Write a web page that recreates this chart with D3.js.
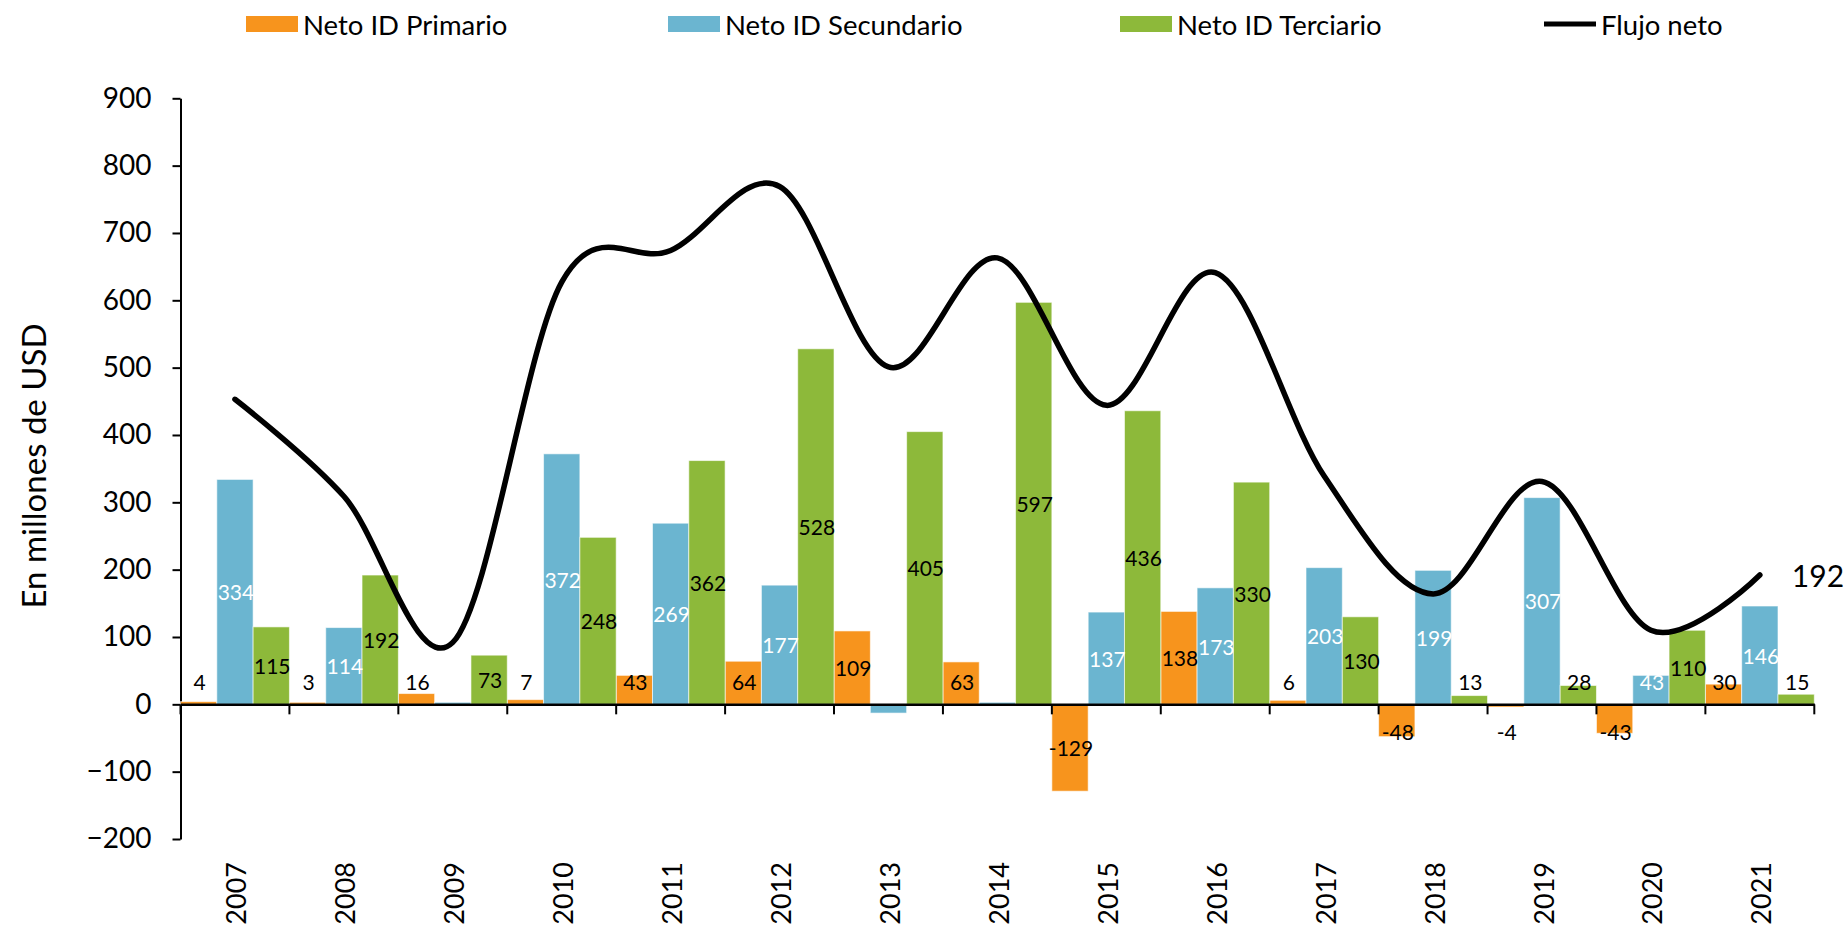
<!DOCTYPE html>
<html>
<head>
<meta charset="utf-8">
<script src="https://cdn.jsdelivr.net/npm/d3@7"></script>
<style>
  body { margin: 0; background: #fff; }
  svg { font-family: Lato, "Open Sans", sans-serif; }
</style>
</head>
<body>
<div id="chart"></div>
<script>
// datos (millones de USD)
const years = ['2007', '2008', '2009', '2010', '2011', '2012', '2013', '2014',
               '2015', '2016', '2017', '2018', '2019', '2020', '2021'];
const primario   = [4, 3, 16, 7, 43, 64, 109, 63, -129, 138, 6, -48, -4, -43, 30];
const secundario = [334, 114, 3, 372, 269, 177, -13, 3, 137, 173, 203, 199, 307, 43, 146];
const terciario  = [115, 192, 73, 248, 362, 528, 405, 597, 436, 330, 130, 13, 28, 110, 15];
const flujo      = [453, 309, 92, 627, 674, 769, 501, 663, 444, 641, 339, 164, 331, 110, 192];
const yTicks = [-200, -100, 0, 100, 200, 300, 400, 500, 600, 700, 800, 900];

const series = [
  { key: 'Neto ID Primario',   values: primario,   color: '#F7941D', label: '#000', showLabel: v => v !== 0 },
  { key: 'Neto ID Secundario', values: secundario, color: '#6BB5D0', label: '#fff', showLabel: v => Math.abs(v) > 20 },
  { key: 'Neto ID Terciario',  values: terciario,  color: '#8DB93A', label: '#000', showLabel: v => true }
];

const W = 1844, H = 925;
const mLeft = 180.5, mRight = 1814.3, mTop = 98.3, mBottom = 839;

const svg = d3.select('#chart').append('svg')
  .attr('width', W).attr('height', H);

const x = d3.scaleBand().domain(years).range([mLeft, mRight]).paddingInner(0).paddingOuter(0);
const xs = d3.scaleBand().domain(series.map(s => s.key)).range([0, x.bandwidth()]).padding(0);
const y = d3.scaleLinear().domain([-200, 900]).range([mBottom, mTop]);
const zero = y(0);

// eje Y
const yAxis = svg.append('g')
  .attr('transform', `translate(${mLeft},0)`)
  .call(d3.axisLeft(y).tickValues(yTicks).tickSize(8).tickSizeOuter(0).tickPadding(21));
yAxis.select('.domain').attr('stroke', '#000').attr('stroke-width', 2);
yAxis.selectAll('.tick line').attr('stroke', '#000').attr('stroke-width', 2);
yAxis.selectAll('.tick text').attr('font-size', 28).attr('fill', '#000')
  .attr('font-family', 'Lato, sans-serif');

// titulo eje Y
svg.append('text')
  .attr('transform', `translate(33,466) rotate(-90)`)
  .attr('text-anchor', 'middle').attr('dominant-baseline', 'central')
  .attr('font-size', 33).text('En millones de USD');

// barras
series.forEach(s => {
  const g = svg.append('g');
  g.selectAll('rect').data(s.values).join('rect')
    .attr('x', (d, i) => x(years[i]) + xs(s.key))
    .attr('width', xs.bandwidth())
    .attr('y', d => y(Math.max(0, d)))
    .attr('height', d => Math.abs(y(d) - zero))
    .attr('fill', s.color)
    .attr('stroke', 'rgba(255,255,255,0.6)').attr('stroke-width', 1);
});

// eje X en cero
const xAxis = svg.append('g')
  .attr('transform', `translate(0,${zero})`)
  .call(d3.axisBottom(x).tickSize(0).tickFormat(''));
xAxis.select('.domain').attr('stroke', '#000').attr('stroke-width', 2.5);
const bounds = years.map(yr => x(yr)).concat([x.range()[1]]);
svg.append('g').selectAll('line').data(bounds).join('line')
  .attr('x1', d => d).attr('x2', d => d)
  .attr('y1', zero).attr('y2', zero + 10)
  .attr('stroke', '#000').attr('stroke-width', 2);

// etiquetas de años abajo
svg.append('g').selectAll('text').data(years).join('text')
  .attr('transform', d => `translate(${x(d) + x.bandwidth() / 2 + 1},862) rotate(-90)`)
  .attr('text-anchor', 'end').attr('dominant-baseline', 'central')
  .attr('font-size', 27).text(d => d);

// etiquetas de datos
series.forEach(s => {
  svg.append('g').selectAll('text').data(s.values).join('text')
    .attr('x', (d, i) => x(years[i]) + xs(s.key) + xs.bandwidth() / 2 + 1)
    .attr('y', d => {
      const c = (y(d) + zero) / 2;
      return d >= 0 ? Math.min(c, zero - 23) : Math.max(c, zero + 27);
    })
    .attr('text-anchor', 'middle').attr('dominant-baseline', 'central')
    .attr('font-size', 21)
    .attr('fill', s.label)
    .text(d => s.showLabel(d) ? d : '');
});

// linea flujo neto
const line = d3.line()
  .x((d, i) => x(years[i]) + x.bandwidth() / 2)
  .y(d => y(d))
  .curve(d3.curveCardinal.tension(0));
svg.append('path').datum(flujo)
  .attr('d', line).attr('fill', 'none')
  .attr('stroke', '#000').attr('stroke-width', 5.5)
  .attr('stroke-linecap', 'round').attr('stroke-linejoin', 'round');

const last = flujo.length - 1;
svg.append('text')
  .attr('x', x(years[last]) + x.bandwidth() / 2 + 32)
  .attr('y', y(flujo[last]))
  .attr('dominant-baseline', 'central')
  .attr('font-size', 30).text(flujo[last]);

// leyenda
const legendItems = [
  { key: series[0].key, color: series[0].color, type: 'rect', x: 246 },
  { key: series[1].key, color: series[1].color, type: 'rect', x: 668 },
  { key: series[2].key, color: series[2].color, type: 'rect', x: 1120 },
  { key: 'Flujo neto', color: '#000', type: 'line', x: 1544 }
];
const lg = svg.append('g').selectAll('g').data(legendItems).join('g')
  .attr('transform', d => `translate(${d.x},24)`);
lg.filter(d => d.type === 'rect').append('rect')
  .attr('x', 0).attr('y', -8).attr('width', 52).attr('height', 16)
  .attr('fill', d => d.color);
lg.filter(d => d.type === 'line').append('line')
  .attr('x1', 0).attr('x2', 52).attr('y1', 0).attr('y2', 0)
  .attr('stroke', '#000').attr('stroke-width', 5);
lg.append('text')
  .attr('x', 57).attr('y', 0).attr('dominant-baseline', 'central')
  .attr('font-size', 27.5).text(d => d.key);
</script>
</body>
</html>
